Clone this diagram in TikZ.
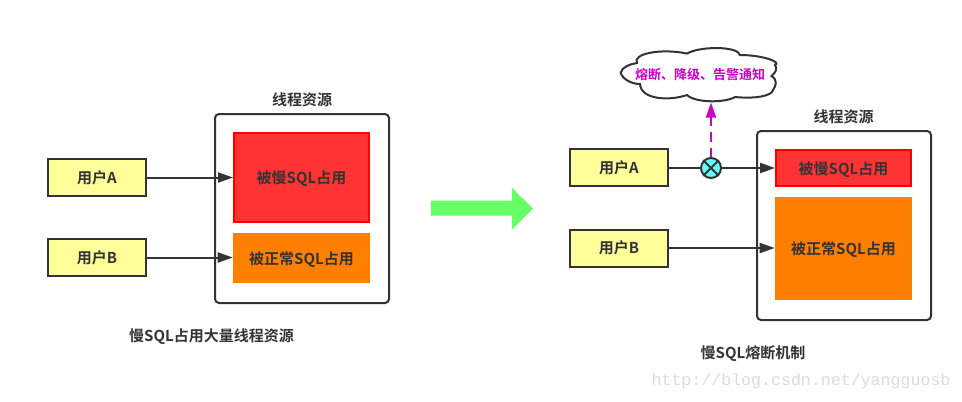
\documentclass[tikz,border=0pt]{standalone}
\usepackage{fontspec}
\setmainfont{Noto Sans CJK SC}[BoldFont={Noto Sans CJK SC Bold}]
\newfontfamily\wmfont{Liberation Mono}
\usetikzlibrary{arrows.meta,calc}
\definecolor{ink}{HTML}{333333}
\definecolor{usery}{HTML}{FFFF99}
\definecolor{slowr}{HTML}{FF3333}
\definecolor{normo}{HTML}{FF8000}
\definecolor{mag}{HTML}{CC00CC}
\definecolor{cyanx}{HTML}{66FFFF}
\definecolor{grn}{HTML}{66FF66}
\definecolor{wm}{HTML}{DEDCD6}
\newcommand{\lowr}[1]{\raisebox{-0.9pt}[\height][\depth]{#1}}
\tikzset{
  lab/.style={font=\bfseries\fontsize{11.25pt}{13pt}\selectfont,text=ink,inner sep=0pt},
  userbox/.style={draw=ink,fill=usery,line width=1.5pt,minimum width=73.5pt,minimum height=27.75pt,inner sep=0pt,lab},
  poolbox/.style={draw=ink,line width=1.5pt,rounded corners=3pt,minimum width=130.5pt,minimum height=141.75pt,inner sep=0pt},
  slowbox/.style={draw=red,fill=slowr,line width=1.5pt,minimum width=101.25pt,inner sep=0pt,lab},
  normbox/.style={fill=normo,minimum width=102.75pt,inner sep=0pt,lab},
  flow/.style={draw=ink,line width=1.5pt,-{Triangle[length=11.25pt,width=7.5pt]}},
  plainflow/.style={draw=ink,line width=1.5pt},
}
\begin{document}
\begin{tikzpicture}[x=0.75pt,y=-0.75pt]
\useasboundingbox[fill=white] (0,0) rectangle (962,401);

% left
\node[poolbox] (poolL) at (302,208.5) {};
\node[lab] (titleL) at (302,100) {线程资源};
\node[slowbox,minimum height=66.5pt] (slowL) at (301.5,177.5) {\lowr{被慢SQL占用}};
\node[normbox,minimum height=37.5pt] (normL) at (301.5,258) {\lowr{被正常SQL占用}};
\node[userbox] (ua) at (97,177.5) {用户A};
\node[userbox] (ub) at (97,257.5) {用户B};
\draw[flow] (ua.east) -- (slowL.west |- ua.east);
\draw[flow] (ub.east) -- (normL.west |- ub.east);
\node[lab] (capL) at (211.5,336.8) {慢SQL占用大量线程资源};

% big arrow
\fill[grn] (431,200.5) -- (512,200.5) -- (512,188) -- (533,208.5) -- (512,229.5) -- (512,215.5) -- (431,215.5) -- cycle;

% right
\node[poolbox] (poolR) at (844,225.5) {};
\node[lab] (titleR) at (843.5,117) {线程资源};
\node[slowbox,minimum height=27pt] (slowR) at (843.5,168) {\lowr{被慢SQL占用}};
\node[normbox,minimum height=77.25pt] (normR) at (843.5,248.5) {\lowr{被正常SQL占用}};
\node[userbox] (ua2) at (619,167.5) {用户A};
\node[userbox] (ub2) at (619,248) {用户B};
\node[circle,draw=ink,fill=cyanx,line width=1.5pt,minimum size=15pt,inner sep=0pt] (xr) at (711,168) {};
\draw[ink,line width=1.5pt] (xr.45) -- (xr.225) (xr.135) -- (xr.315);
\draw[plainflow] (ua2.east) -- (xr.west |- ua2.east);
\draw[flow] (xr.east) -- (slowR.west |- xr.east);
\draw[flow] (ub2.east) -- (normR.west |- ub2.east);

% cloud
\draw[ink,line width=1.5pt,fill=white]
  (620.7,72.7) .. controls (622,67) and (630,64) .. (637,63)
  .. controls (632,54) and (660,48) .. (687,53.5)
  .. controls (700,46) and (738,46) .. (740,55)
  .. controls (762,55) and (782,62) .. (775,65)
  .. controls (778,69) and (775,73) .. (771.5,76)
  .. controls (778,80) and (776,86) .. (773,90)
  .. controls (772,96) and (755,99) .. (735,97)
  .. controls (725,103) and (695,103) .. (687,95)
  .. controls (670,101) and (641,100) .. (640,84)
  .. controls (630,84) and (622,78) .. (620.7,72.7) -- cycle;
\node[lab,text=mag,font=\bfseries\fontsize{9.75pt}{12pt}\selectfont] (cloudt) at (700,75) {熔断、降级、告警通知};
\coordinate (cloudb) at (711,102.5);
\draw[mag,line width=1.5pt,dash pattern=on 7pt off 4.5pt,-{Triangle[length=11.25pt,width=7.5pt]}] (xr.north) -- (cloudb);

\node[lab] (capR) at (753,354) {慢SQL熔断机制};
\node[font=\wmfont\fontsize{12.45pt}{15pt}\selectfont,text=wm,inner sep=0pt] (mark) at (801,381.5) {http://blog.csdn.net/yangguosb};
\end{tikzpicture}
\end{document}
